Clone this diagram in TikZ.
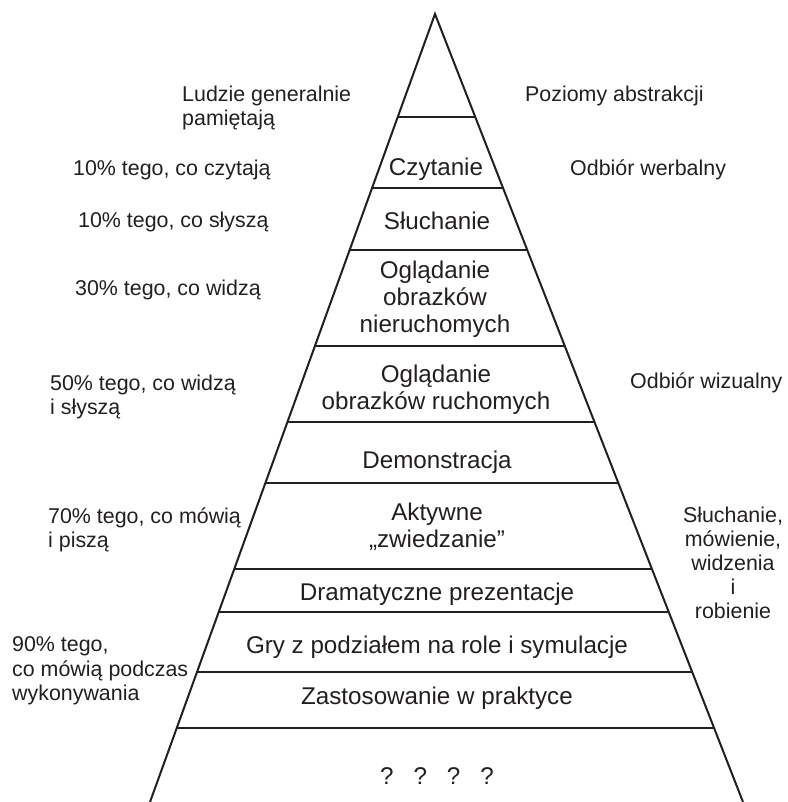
\documentclass[tikz,border=0pt]{standalone}
\usepackage{fontspec}
\setmainfont{Liberation Sans}
\usetikzlibrary{calc}
\definecolor{ink}{RGB}{35,31,32}
\begin{document}
\begin{tikzpicture}[x=1pt,y=-1pt,
  lvl/.style={font=\fontsize{24.2}{27}\selectfont, text=ink, align=center, inner sep=0pt},
  side/.style={font=\fontsize{21.4}{24.5}\selectfont, text=ink, align=left, anchor=west, inner sep=0pt},
  rule/.style={line width=2pt, draw=ink}]
\useasboundingbox (0,0) rectangle (787,802);
\clip (0,0) rectangle (787,802);
\coordinate (A) at (435,14);
\coordinate (BL) at (150,802);
\coordinate (BR) at (743,802);
\draw[rule, line join=miter] (BL) -- (A) -- (BR);
\foreach \y in {117,188,250,346,422,483,569,612,672,728} {
  \draw[rule] ($(A)!{(\y-14)/788}!(BL)$) -- ($(A)!{(\y-14)/788}!(BR)$);
}
% levels
\node[lvl] (czyt) at (436,169) {Czytanie};
\node[lvl] (sluch) at (437,221) {Słuchanie};
\node[lvl] (ogl1) at (435,299) {Oglądanie\\obrazków\\nieruchomych};
\node[lvl] (ogl2) at (436,390) {Oglądanie\\obrazków ruchomych};
\node[lvl] (demo) at (437,462) {Demonstracja};
\node[lvl] (akt) at (437,527) {Aktywne\\„zwiedzanie”};
\node[lvl] (dram) at (437,594) {Dramatyczne prezentacje};
\node[lvl] (gry) at (437,647) {Gry z podziałem na role i symulacje};
\node[lvl] (zast) at (437,698) {Zastosowanie w praktyce};
\node[lvl] (q) at (437,776) {?\hspace{20pt}?\hspace{20pt}?\hspace{20pt}?};
% left labels
\node[side] (l0) at (182,108) {Ludzie generalnie\\pamiętają};
\node[side] (l1) at (73,170) {10\% tego, co czytają};
\node[side] (l2) at (78,222) {10\% tego, co słyszą};
\node[side] (l3) at (75,290) {30\% tego, co widzą};
\node[side] (l4) at (50,397) {50\% tego, co widzą\\i słyszą};
\node[side] (l5) at (48,530) {70\% tego, co mówią\\i piszą};
\node[side] (l6) at (12,671) {90\% tego,\\co mówią podczas\\wykonywania};
% right labels
\node[side] (r0) at (525,96) {Poziomy abstrakcji};
\node[side] (r1) at (570,170) {Odbiór werbalny};
\node[side] (r2) at (630,383) {Odbiór wizualny};
\node[side, align=center, anchor=center, font=\fontsize{21.4}{24}\selectfont] (r3) at (733,563) {Słuchanie,\\mówienie,\\widzenia\\i\\robienie};
\end{tikzpicture}
\end{document}
